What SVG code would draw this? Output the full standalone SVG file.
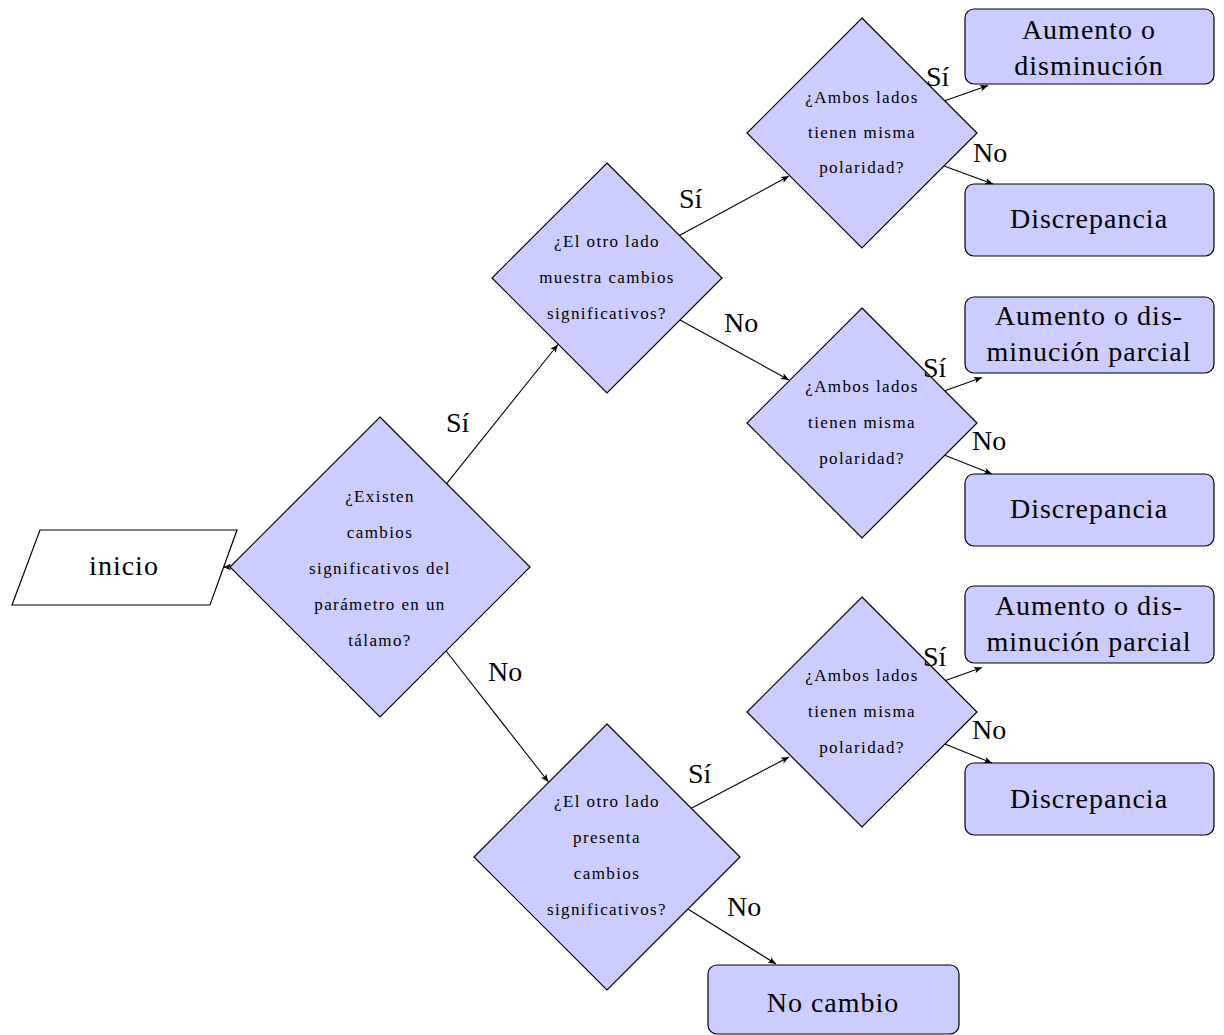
<svg xmlns="http://www.w3.org/2000/svg" width="1224" height="1035" viewBox="0 0 1224 1035">
<style>
.dec{fill:#ccccff;stroke:#000;stroke-width:1.2}
.box{fill:#ccccff;stroke:#000;stroke-width:1.2}
.io{fill:#fff;stroke:#000;stroke-width:1.2}
.q{font-family:"Liberation Serif",serif;font-size:17px;letter-spacing:1.4px;text-anchor:middle;fill:#000}
.t{font-family:"Liberation Serif",serif;font-size:28px;letter-spacing:1px;text-anchor:middle;fill:#000}
.lab{font-family:"Liberation Serif",serif;font-size:28px;fill:#000}
.c{fill:none;stroke:#000;stroke-width:1.1;marker-end:url(#ah)}
</style>
<defs>
<marker id="ah" markerUnits="userSpaceOnUse" markerWidth="12" markerHeight="10" viewBox="-9 -5 10 10" refX="0" refY="0" orient="auto">
<path d="M0,0 L-8,-3.3 L-6,0 L-8,3.3 Z" fill="#000"/>
</marker>
</defs>
<rect width="1224" height="1035" fill="#fff"/>

<g id="inicio">
<polygon class="io" points="40,530 237,530 210,605 12,605"/>
<text class="t" x="124" y="575">inicio</text>
</g>

<g id="q1">
<polygon class="dec" points="380,417 530,567 380,717 230,567"/>
<text class="q" x="380" y="502">¿Existen</text>
<text class="q" x="380" y="538">cambios</text>
<text class="q" x="380" y="574">significativos del</text>
<text class="q" x="380" y="610">parámetro en un</text>
<text class="q" x="380" y="646">tálamo?</text>
</g>

<g id="q2a">
<polygon class="dec" points="607,163 722,278 607,393 492,278"/>
<text class="q" x="607" y="247">¿El otro lado</text>
<text class="q" x="607" y="283">muestra cambios</text>
<text class="q" x="607" y="319">significativos?</text>
</g>

<g id="q2b">
<polygon class="dec" points="607,724 740,857 607,990 474,857"/>
<text class="q" x="607" y="807">¿El otro lado</text>
<text class="q" x="607" y="843">presenta</text>
<text class="q" x="607" y="879">cambios</text>
<text class="q" x="607" y="915">significativos?</text>
</g>

<g id="q3a">
<polygon class="dec" points="862,18 977,133 862,248 747,133"/>
<text class="q" x="862" y="103">¿Ambos lados</text>
<text class="q" x="862" y="138">tienen misma</text>
<text class="q" x="862" y="173">polaridad?</text>
</g>

<g id="q3b">
<polygon class="dec" points="862,308 977,423 862,538 747,423"/>
<text class="q" x="862" y="392">¿Ambos lados</text>
<text class="q" x="862" y="428">tienen misma</text>
<text class="q" x="862" y="464">polaridad?</text>
</g>

<g id="q3c">
<polygon class="dec" points="862,597 977,712 862,827 747,712"/>
<text class="q" x="862" y="681">¿Ambos lados</text>
<text class="q" x="862" y="717">tienen misma</text>
<text class="q" x="862" y="753">polaridad?</text>
</g>

<g id="r1">
<rect class="box" x="965" y="9" width="249" height="75" rx="9"/>
<text class="t" x="1089" y="39">Aumento o</text>
<text class="t" x="1089" y="75">disminución</text>
</g>
<g id="r2">
<rect class="box" x="965" y="184" width="249" height="72" rx="9"/>
<text class="t" x="1089" y="228">Discrepancia</text>
</g>
<g id="r3">
<rect class="box" x="965" y="297" width="249" height="76" rx="9"/>
<text class="t" x="1089" y="325">Aumento o dis-</text>
<text class="t" x="1089" y="361">minución parcial</text>
</g>
<g id="r4">
<rect class="box" x="965" y="474" width="249" height="72" rx="9"/>
<text class="t" x="1089" y="518">Discrepancia</text>
</g>
<g id="r5">
<rect class="box" x="965" y="586" width="249" height="77" rx="9"/>
<text class="t" x="1089" y="615">Aumento o dis-</text>
<text class="t" x="1089" y="651">minución parcial</text>
</g>
<g id="r6">
<rect class="box" x="965" y="763" width="249" height="72" rx="9"/>
<text class="t" x="1089" y="808">Discrepancia</text>
</g>
<g id="r7">
<rect class="box" x="708" y="965" width="251" height="69" rx="9"/>
<text class="t" x="833" y="1012">No cambio</text>
</g>

<g id="connectors">
<path class="c" d="M230,567 L223,567"/>
<path class="c" d="M446.6,483.6 L558,344.5"/>
<path class="c" d="M446.1,651 L548.5,782"/>
<path class="c" d="M679.4,235.4 L789,176"/>
<path class="c" d="M680,320 L789,380"/>
<path class="c" d="M691.3,808.3 L789,757"/>
<path class="c" d="M687.9,909 L776,964"/>
<path class="c" d="M944.8,100.8 L988,85.5"/>
<path class="c" d="M944,166 L993,184"/>
<path class="c" d="M944.8,390.8 L982,377.5"/>
<path class="c" d="M944.8,455.2 L992,474"/>
<path class="c" d="M945.5,680.5 L982,667.5"/>
<path class="c" d="M944.9,744.1 L992,763"/>
</g>

<g id="labels">
<text class="lab" x="446" y="432">Sí</text>
<text class="lab" x="488" y="681">No</text>
<text class="lab" x="679" y="208">Sí</text>
<text class="lab" x="724" y="332">No</text>
<text class="lab" x="688" y="783">Sí</text>
<text class="lab" x="727" y="916">No</text>
<text class="lab" x="926" y="86">Sí</text>
<text class="lab" x="973" y="162">No</text>
<text class="lab" x="923" y="377">Sí</text>
<text class="lab" x="972" y="450">No</text>
<text class="lab" x="923" y="666">Sí</text>
<text class="lab" x="972" y="739">No</text>
</g>
</svg>
